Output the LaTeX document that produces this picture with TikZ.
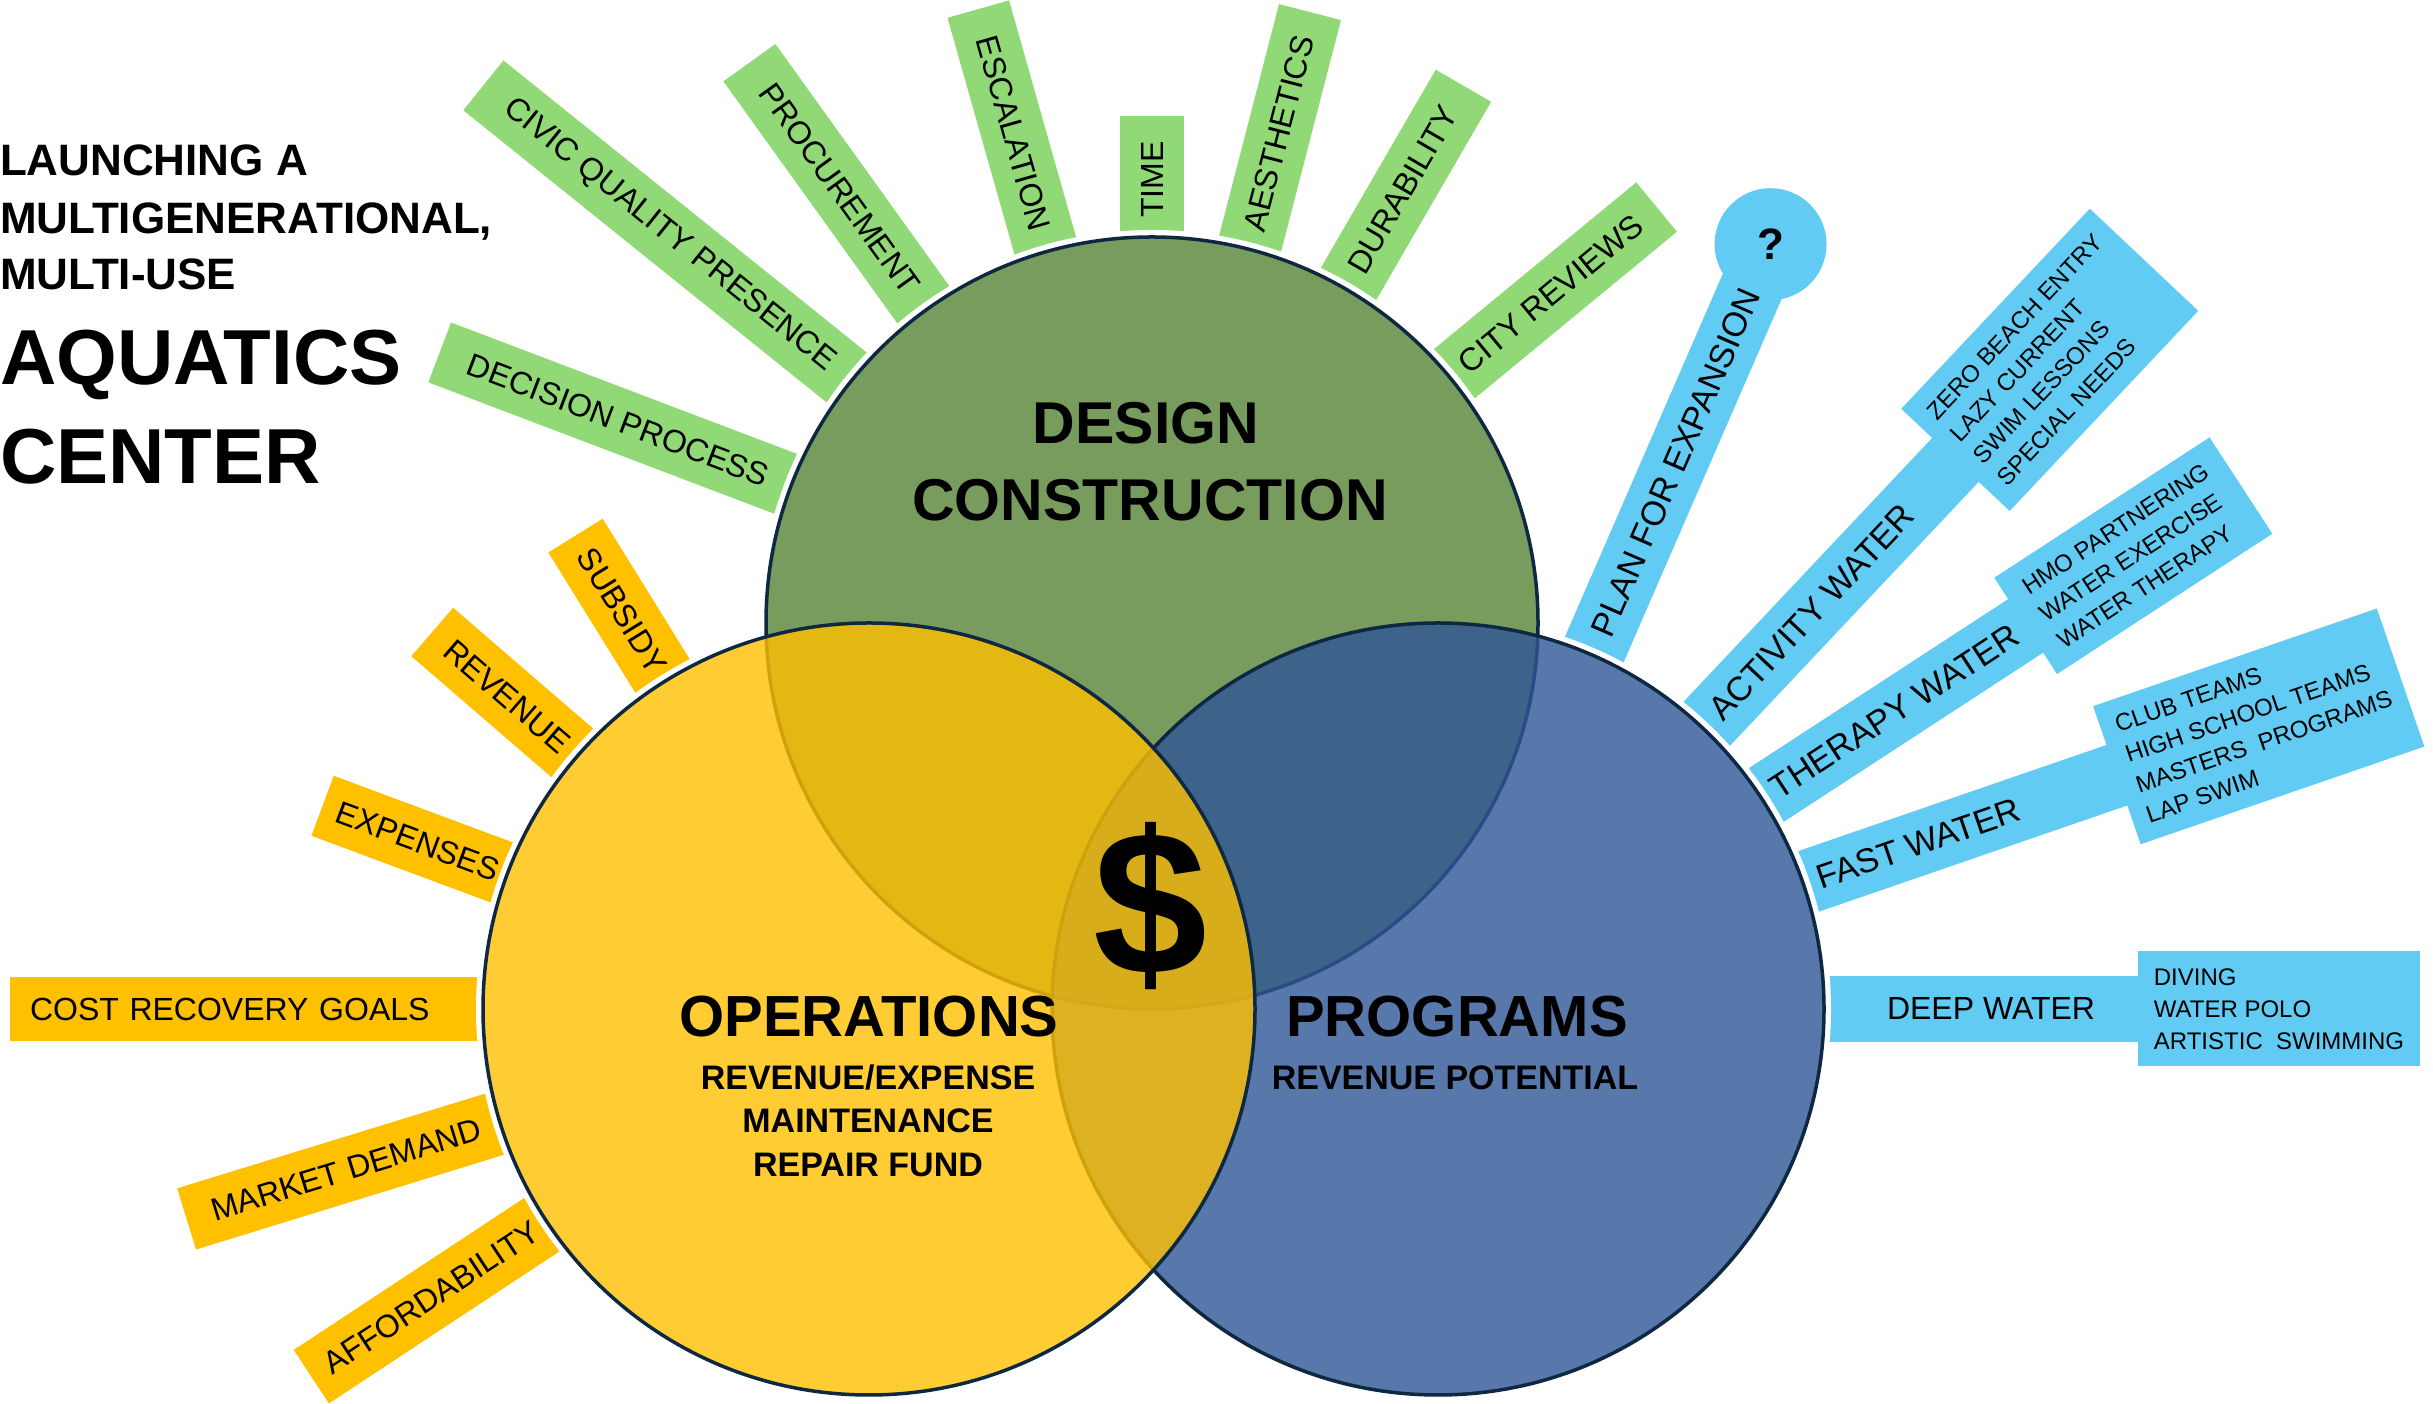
\documentclass[tikz,border=0pt]{standalone}
\usepackage{fontspec}
\setmainfont{Liberation Sans}
\usetikzlibrary{calc}
\definecolor{lgreen}{RGB}{145,217,118}
\definecolor{lyellow}{RGB}{255,192,0}
\definecolor{lblue}{RGB}{97,203,243}
\definecolor{cgreen}{RGB}{120,156,94}
\definecolor{cblue}{RGB}{47,85,151}
\definecolor{cyellow}{RGB}{255,192,0}
\definecolor{navy}{RGB}{14,40,65}
\tikzset{
  every node/.style={inner sep=0pt, outer sep=0pt, text=black},
  labfont/.style={font=\fontsize{32}{38}\selectfont},
  glab/.style={fill=lgreen, minimum height=64pt, labfont},
  ylab/.style={fill=lyellow, minimum height=64pt, labfont},
  bstem/.style={fill=lblue, minimum height=64pt},
  bbox/.style={fill=lblue, align=left, font=\fontsize{24}{32}\selectfont},
  btext/.style={font=\fontsize{34}{40}\selectfont},
  halo/.style={fill=white},
  ring/.style={draw=navy, line width=3.5pt},
  headfont/.style={font=\fontsize{58}{66}\selectfont\bfseries},
  subfont/.style={font=\fontsize{34}{42}\selectfont\bfseries},
  titlesmall/.style={anchor=base west, font=\fontsize{44}{50}\selectfont\bfseries},
  titlebig/.style={anchor=base west, font=\fontsize{78}{88}\selectfont\bfseries},
}
% #1 name, #2 style, #3 centre, #4 angle, #5 outer radius, #6 text rotation, #7 text
\newcommand{\radlab}[7]{\node[#2, minimum width={(#5)-380}, rotate=#6] (#1) at ($(#3)+(#4:{((#5)+380)/2})$) {#7};}
\begin{document}
\begin{tikzpicture}[x=1pt,y=1pt]
\useasboundingbox (0,0) rectangle (2433,1404);
\coordinate (G) at (1152,781);
\coordinate (Y) at (869,395);
\coordinate (B) at (1438,395);

% ---------- green labels ----------
\radlab{decision}{glab}{G}{159.2}{762}{-20.8}{DECISION PROCESS}
\radlab{civic}{glab}{G}{141.2}{858}{-38.8}{CIVIC QUALITY PRESENCE}
\radlab{procure}{glab}{G}{125.7}{690}{-54.3}{PROCUREMENT}
\radlab{escal}{glab}{G}{105.8}{638}{-74.2}{ESCALATION}
\radlab{time}{glab}{G}{90}{507}{90}{TIME}
\radlab{aesth}{glab}{G}{75.5}{631}{75.5}{AESTHETICS}
\radlab{durab}{glab}{G}{59.9}{621}{59.9}{DURABILITY}
\radlab{city}{glab}{G}{39.5}{654}{39.5}{CITY REVIEWS}

% ---------- yellow labels ----------
\radlab{subsidy}{ylab}{Y}{121.8}{557}{-58.2}{SUBSIDY}
\radlab{revenue}{ylab}{Y}{139.2}{577}{-40.8}{REVENUE}
\radlab{expenses}{ylab}{Y}{159.6}{583}{-20.4}{EXPENSES}
\node[ylab, text width=439pt, inner xsep=20pt, align=left] (cost) at ($(Y)+(180:619.5)$) {COST RECOVERY GOALS};
\radlab{market}{ylab}{Y}{197.1}{714}{17.1}{MARKET DEMAND}
\radlab{afford}{ylab}{Y}{213.4}{668}{33.4}{AFFORDABILITY}

% ---------- blue labels ----------
\node[bstem, minimum width=425pt, rotate=66.5] (planstem) at ($(B)+(66.5:592)$) {};
\node[circle, fill=lblue, minimum size=112pt] (planq) at ($(B)+(66.5:834)$) {\fontsize{44}{50}\selectfont\bfseries ?};
\node[btext, rotate=66.5] (plan) at ($(B)+(66.5:596)$) {PLAN FOR EXPANSION};

\node[bstem, minimum width=382pt, rotate=46.7] (actstem) at ($(B)+(46.7:571)$) {};
\node[bbox, minimum width=275pt, minimum height=149pt, rotate=46.7] (actbox) at ($(B)+(46.7:892)$) {ZERO BEACH ENTRY\\LAZY CURRENT\\SWIM LESSONS\\SPECIAL NEEDS};
\node[btext, rotate=46.7] (act) at ($(B)+(46.7:545)$) {ACTIVITY WATER};

\node[bstem, minimum width=325pt, rotate=33.1] (therstem) at ($(B)+(33.1:542)$) {};
\node[bbox, minimum width=257pt, minimum height=115pt, rotate=33.1] (therbox) at ($(B)+(33.1:830)$) {HMO PARTNERING\\WATER EXERCISE\\WATER THERAPY};
\node[btext, rotate=33.1] (ther) at ($(B)+(33.1:545)$) {THERAPY WATER};

\node[bstem, minimum width=342pt, rotate=19] (faststem) at ($(B)+(19:551)$) {};
\node[bbox, minimum width=300pt, minimum height=146pt, rotate=19] (fastbox) at ($(B)+(19:868)$) {CLUB TEAMS\\HIGH SCHOOL TEAMS\\MASTERS\ \ PROGRAMS\\LAP SWIM};
\node[btext, rotate=19] (fast) at ($(B)+(19:508)$) {FAST WATER};

\node[bstem, minimum width=322pt, minimum height=66pt] (deepstem) at ($(B)+(0:541)$) {};
\node[bbox, minimum width=282pt, minimum height=115pt] (deepbox) at ($(B)+(0:841)$) {DIVING\\WATER POLO\\ARTISTIC\ \ SWIMMING};
\node[btext, font=\fontsize{32}{38}\selectfont] (deep) at ($(B)+(0:553)$) {DEEP WATER};

% ---------- circles ----------
\fill[halo] (G) circle (393);
\fill[halo] (B) circle (393);
\fill[halo] (Y) circle (393);
\node[circle, minimum size=772pt, fill=cgreen, ring] (design) at (G) {};
\node[circle, minimum size=772pt, fill=cblue, fill opacity=0.8, ring] (programs) at (B) {};
\node[circle, minimum size=772pt, fill=cyellow, fill opacity=0.8, ring] (operations) at (Y) {};

% ---------- circle texts ----------
\node[headfont, font=\fontsize{59}{66}\selectfont\bfseries] (dt1) at (1146,981) {DESIGN};
\node[headfont, font=\fontsize{59}{66}\selectfont\bfseries] (dt2) at (1150,904) {CONSTRUCTION};
\node[headfont] (ot) at (869,387) {OPERATIONS};
\node[subfont] (os1) at (868,326) {REVENUE/EXPENSE};
\node[subfont] (os2) at (868,283) {MAINTENANCE};
\node[subfont] (os3) at (868,239) {REPAIR FUND};
\node[headfont] (pt) at (1457,387) {PROGRAMS};
\node[subfont] (ps1) at (1455,326) {REVENUE POTENTIAL};
\node[font=\fontsize{205}{210}\selectfont\bfseries] (dollar) at (1150,498) {\$};

% ---------- title ----------
\node[titlesmall] (t1) at (0,1228) {LAUNCHING A};
\node[titlesmall] (t2) at (0,1170) {MULTIGENERATIONAL,};
\node[titlesmall] (t3) at (0,1114) {MULTI-USE};
\node[titlebig] (t4) at (0,1019) {AQUATICS};
\node[titlebig] (t5) at (0,920) {CENTER};
\end{tikzpicture}
\end{document}
